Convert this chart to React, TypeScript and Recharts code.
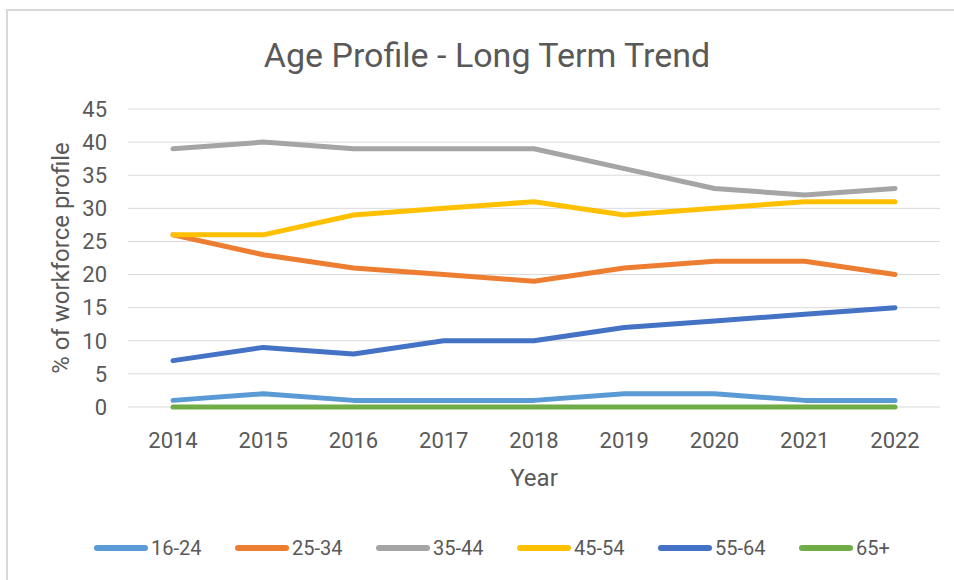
import { LineChart, Line, XAxis, YAxis, CartesianGrid, Legend } from "recharts";

const years = ["2014", "2015", "2016", "2017", "2018", "2019", "2020", "2021", "2022"];

const age16to24 = [1, 2, 1, 1, 1, 2, 2, 1, 1];
const age25to34 = [26, 23, 21, 20, 19, 21, 22, 22, 20];
const age35to44 = [39, 40, 39, 39, 39, 36, 33, 32, 33];
const age45to54 = [26, 26, 29, 30, 31, 29, 30, 31, 31];
const age55to64 = [7, 9, 8, 10, 10, 12, 13, 14, 15];
const age65plus = [0, 0, 0, 0, 0, 0, 0, 0, 0];

const yTicks = [0, 5, 10, 15, 20, 25, 30, 35, 40, 45];

const series = [
  { key: "16-24", values: age16to24, color: "#5B9BD5" },
  { key: "25-34", values: age25to34, color: "#ED7D31" },
  { key: "35-44", values: age35to44, color: "#A5A5A5" },
  { key: "45-54", values: age45to54, color: "#FFC000" },
  { key: "55-64", values: age55to64, color: "#4472C4" },
  { key: "65+", values: age65plus, color: "#70AD47" },
];

const data = years.map((year, i) => {
  const row: Record<string, string | number> = { year };
  series.forEach((s) => {
    row[s.key] = s.values[i];
  });
  return row;
});

const FONT = "Roboto, sans-serif";
const TEXT = "#595959";
const GRID = "#D9D9D9";

function LegendRow() {
  return (
    <div style={{ display: "flex", paddingLeft: 94, fontFamily: FONT, fontSize: 20, color: TEXT, lineHeight: "24px" }}>
      {series.map((s) => (
        <div key={s.key} style={{ display: "flex", alignItems: "center", width: 141 }}>
          <span style={{ display: "inline-block", width: 54, height: 6, borderRadius: 3, background: s.color, marginRight: 3 }} />
          <span>{s.key}</span>
        </div>
      ))}
    </div>
  );
}

export default function App() {
  return (
    <div style={{ position: "absolute", left: 0, top: 0, width: 954, height: 580, overflow: "hidden", background: "#fff" }}>
      <div
        style={{
          position: "absolute",
          left: 6,
          top: 9,
          width: 1000,
          height: 600,
          borderTop: `2px solid ${GRID}`,
          borderLeft: `2px solid ${GRID}`,
        }}
      />
      <div
        style={{
          position: "absolute",
          left: 0,
          top: 38,
          width: 974,
          textAlign: "center",
          fontFamily: FONT,
          fontSize: 34,
          lineHeight: "34px",
          color: TEXT,
        }}
      >
        Age Profile - Long Term Trend
      </div>
      <div style={{ position: "absolute", left: 0, top: 0 }}>
        <LineChart width={954} height={580} data={data} margin={{ top: 109, right: 14, left: 8, bottom: 123 }}>
          <CartesianGrid vertical={false} stroke={GRID} strokeWidth={1} />
          <XAxis
            dataKey="year"
            padding={{ left: 45, right: 45 }}
            height={50}
            axisLine={false}
            tickLine={false}
            tickMargin={19}
            tick={{ fill: TEXT, fontSize: 22, fontFamily: FONT }}
            label={{ value: "Year", position: "bottom", offset: 12, fill: TEXT, fontSize: 24, fontFamily: FONT }}
          />
          <YAxis
            width={120}
            domain={[0, 45]}
            ticks={yTicks}
            axisLine={false}
            tickLine={false}
            tickMargin={15}
            tick={{ fill: TEXT, fontSize: 22, fontFamily: FONT }}
            label={{
              value: "% of workforce profile",
              angle: -90,
              position: "insideLeft",
              offset: 52,
              fill: TEXT,
              fontSize: 24,
              fontFamily: FONT,
              style: { textAnchor: "middle" },
            }}
          />
          <Legend
            layout="horizontal"
            verticalAlign="middle"
            align="center"
            wrapperStyle={{ top: 536, left: 0, width: 954 }}
            content={() => <LegendRow />}
          />
          {series.map((s) => (
            <Line
              key={s.key}
              type="linear"
              dataKey={s.key}
              stroke={s.color}
              strokeWidth={5}
              strokeLinecap="round"
              strokeLinejoin="round"
              dot={false}
              activeDot={false}
              isAnimationActive={false}
            />
          ))}
        </LineChart>
      </div>
    </div>
  );
}
